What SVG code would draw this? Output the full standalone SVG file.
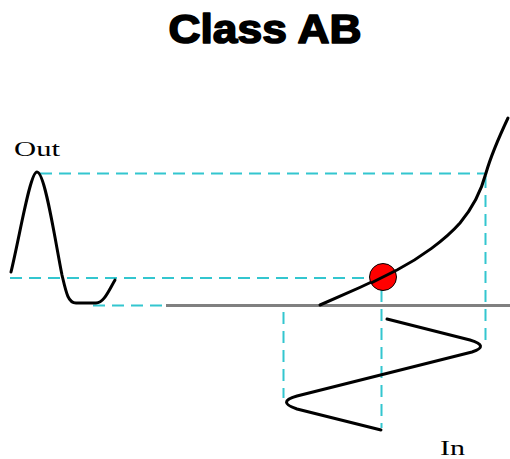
<svg xmlns="http://www.w3.org/2000/svg" width="510" height="459" viewBox="0 0 510 459">
<style>
.dash{fill:none;stroke:#33C6CF;stroke-width:2;stroke-dasharray:12 7}
.wave{fill:none;stroke:#000;stroke-width:3;stroke-linejoin:round;stroke-linecap:round}
.lbl{font-family:"Liberation Serif","DejaVu Serif",serif;font-size:21px;fill:#000}
</style>
<rect width="510" height="459" fill="#fff"/>
<text x="265" y="43" text-anchor="middle" font-family="'Liberation Sans',Arial,sans-serif" font-weight="bold" font-size="40" textLength="193" lengthAdjust="spacingAndGlyphs" fill="#000" stroke="#000" stroke-width="1.6" stroke-linejoin="round">Class AB</text>
<g id="guides">
<line class="dash" x1="40" y1="173.5" x2="486" y2="173.5"/>
<line class="dash" x1="10" y1="278" x2="371" y2="278"/>
<line class="dash" x1="93" y1="305.5" x2="166" y2="305.5"/>
<line class="dash" x1="283.5" y1="312" x2="283.5" y2="398"/>
<line class="dash" x1="381.5" y1="290" x2="381.5" y2="428"/>
<line class="dash" x1="485.5" y1="176" x2="485.5" y2="343"/>
</g>
<g id="axis">
<line x1="166" y1="305.5" x2="510" y2="305.5" stroke="#808080" stroke-width="3"/>
</g>
<g id="out-wave">
<path class="wave" d="M11,272 C20,235 30,172 37,172 C45,172 55,240 62,275 C66,292 68,303 76,303 L96,303 C104,303 109,290 115,280"/>
<text class="lbl" x="14" y="156" textLength="46" lengthAdjust="spacingAndGlyphs">Out</text>
</g>
<g id="transfer-curve">
<path class="wave" d="M320,305 Q360,288 397,270 C420,258 445,240 460,223 C475,205 482,188 486,173 C492,152 500,135 508,118"/>
</g>
<g id="q-point">
<circle cx="383" cy="277" r="13.5" fill="#FF0000" stroke="#000" stroke-width="1"/>
<path d="M371,283 L395,271" stroke="#000" stroke-width="3" fill="none"/>
</g>
<g id="in-wave">
<path class="wave" d="M387,319 L470,340 Q490,346 472,352 L297,396 Q276,402 297,409 L381,430"/>
<text class="lbl" x="440" y="455" textLength="25" lengthAdjust="spacingAndGlyphs">In</text>
</g>
</svg>
